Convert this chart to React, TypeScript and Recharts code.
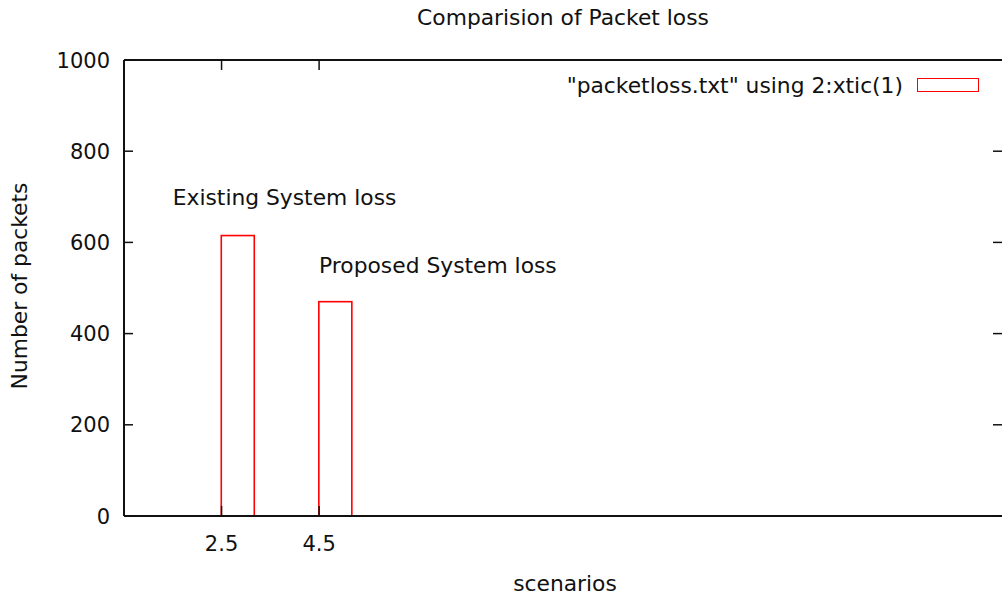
import {
  BarChart, Bar, XAxis, YAxis, Legend, ReferenceLine, ReferenceDot,
} from 'recharts';

const scenarios = [2.5, 4.5];
const packetLoss = [615, 470];
const yTicks = [0, 200, 400, 600, 800, 1000];
const annotations = [
  { x: 1.5, y: 700, text: 'Existing System loss' },
  { x: 4.5, y: 550, text: 'Proposed System loss' },
];
const seriesName = '"packetloss.txt" using 2:xtic(1)';

const data = scenarios.map((s, i) => ({ x: s, loss: packetLoss[i] }));

const FONT = '"DejaVu Sans", sans-serif';
const FS = 21;     // tick numbers
const FS_TXT = 21.8; // words
const INK = '#111';
const RED = '#ff0000';

const PLOT_LEFT = 124;
const PLOT_RIGHT = 1002;
const PLOT_TOP = 60;
const PLOT_BOTTOM = 516;
const TIC = 9;

// gnuplot-style bar: left edge sits on the xtic, outline only
const OutlineBar = (props: any) => {
  const { x, y, width, height } = props;
  if (height == null || height <= 0) return null;
  return (
    <rect
      x={x + width / 2}
      y={y}
      width={width}
      height={height}
      fill="none"
      stroke={RED}
      strokeWidth={1.6}
    />
  );
};

const YTick = (props: any) => {
  const { y, payload } = props;
  return (
    <g>
      <line x1={PLOT_LEFT} x2={PLOT_LEFT + TIC} y1={y} y2={y} stroke={INK} strokeWidth={1.5} />
      <line x1={PLOT_RIGHT - TIC} x2={PLOT_RIGHT} y1={y} y2={y} stroke={INK} strokeWidth={1.5} />
      <text x={110} y={y} dy="0.36em" textAnchor="end" fontFamily={FONT} fontSize={FS} fill={INK}>
        {payload.value}
      </text>
    </g>
  );
};

const XTick = (props: any) => {
  const { x, payload } = props;
  return (
    <g>
      <line x1={x} x2={x} y1={PLOT_TOP} y2={PLOT_TOP + TIC + 1} stroke={INK} strokeWidth={1.5} />
      <line x1={x} x2={x} y1={PLOT_BOTTOM} y2={PLOT_BOTTOM - TIC - 1} stroke={INK} strokeWidth={1.5} />
      <text x={x} y={PLOT_BOTTOM + 35} textAnchor="middle" fontFamily={FONT} fontSize={FS} fill={INK}>
        {payload.value}
      </text>
    </g>
  );
};

const LegendBox = () => (
  <div
    style={{
      display: 'flex', justifyContent: 'flex-end', alignItems: 'center', height: 30,
      fontFamily: FONT, fontSize: FS_TXT, color: INK, whiteSpace: 'nowrap',
    }}
  >
    <span>{seriesName}</span>
    <span
      style={{
        display: 'inline-block', width: 60, height: 12, marginLeft: 14,
        border: `1.6px solid ${RED}`,
      }}
    />
  </div>
);

export default function App() {
  return (
    <div style={{ position: 'absolute', left: 0, top: 0, width: 1002, height: 597, background: '#fff' }}>
      <div
        style={{
          position: 'absolute', left: PLOT_LEFT, width: PLOT_RIGHT - PLOT_LEFT, top: 5,
          textAlign: 'center', fontFamily: FONT, fontSize: FS_TXT, color: INK,
        }}
      >
        Comparision of Packet loss
      </div>
      <BarChart
        width={1002}
        height={597}
        data={data}
        margin={{ top: PLOT_TOP, right: 0, bottom: 0, left: 0 }}
        barSize={33}
      >
        <XAxis
          dataKey="x"
          type="number"
          domain={[0.5, 18.5]}
          ticks={scenarios}
          allowDataOverflow
          height={81}
          tickSize={0}
          tick={<XTick />}
          axisLine={{ stroke: INK, strokeWidth: 2 }}
          label={{
            content: () => (
              <text x={565} y={591} textAnchor="middle" fontFamily={FONT} fontSize={FS_TXT} fill={INK}>
                scenarios
              </text>
            ),
          }}
        />
        <YAxis
          type="number"
          domain={[0, 1000]}
          ticks={yTicks}
          width={124}
          tickSize={0}
          tick={<YTick />}
          axisLine={{ stroke: INK, strokeWidth: 2 }}
          label={{
            content: () => (
              <text
                x={27}
                y={286}
                transform="rotate(-90 27 286)"
                textAnchor="middle"
                fontFamily={FONT}
                fontSize={FS_TXT}
                fill={INK}
              >
                Number of packets
              </text>
            ),
          }}
        />
        <ReferenceLine y={1000} stroke={INK} strokeWidth={2} />
        {annotations.map(a => (
          <ReferenceDot
            key={a.text}
            x={a.x}
            y={a.y}
            r={0}
            fill="none"
            stroke="none"
            label={{
              content: (p: any) => (
                <text
                  x={p.viewBox.x}
                  y={p.viewBox.y}
                  dy="0.36em"
                  fontFamily={FONT}
                  fontSize={FS_TXT}
                  fill={INK}
                >
                  {a.text}
                </text>
              ),
            }}
          />
        ))}
        <Legend
          verticalAlign="middle"
          align="center"
          wrapperStyle={{ left: 400, top: 70, width: 579, height: 30 }}
          content={<LegendBox />}
        />
        <Bar dataKey="loss" name={seriesName} shape={<OutlineBar />} isAnimationActive={false} />
      </BarChart>
    </div>
  );
}
